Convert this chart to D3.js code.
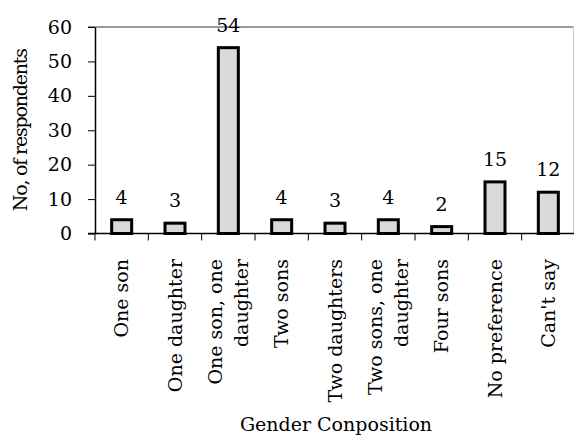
<!DOCTYPE html>
<html>
<head>
<meta charset="utf-8">
<script src="https://cdn.jsdelivr.net/npm/d3@7"></script>
<style>
  html, body { margin: 0; padding: 0; background: #fff; }
  svg text { font-family: "DejaVu Serif", serif; fill: #000; }
</style>
</head>
<body>
<svg id="chart" width="574" height="437"></svg>
<script>
// Preferred gender composition of children
const categories = [
  ["One son"],
  ["One daughter"],
  ["One son, one", "daughter"],
  ["Two sons"],
  ["Two daughters"],
  ["Two sons, one", "daughter"],
  ["Four sons"],
  ["No preference"],
  ["Can't say"]
];
const respondents = [4, 3, 54, 4, 3, 4, 2, 15, 12];
const yTicks = [0, 10, 20, 30, 40, 50, 60];
const yTitle = "No, of respondents";
const xTitle = "Gender Conposition";

const svg = d3.select("#chart");
const plotLeft = 95, plotRight = 575, plotTop = 27, plotBottom = 233.5;
const fontSize = 19;
const fontFamily = "DejaVu Serif, serif";

const x = d3.scaleBand()
  .domain(d3.range(categories.length))
  .range([plotLeft, plotRight])
  .paddingInner(0)
  .paddingOuter(0);

const y = d3.scaleLinear().domain([0, 60]).range([plotBottom, plotTop]);

// plot frame: top and right borders
svg.append("line")
  .attr("x1", 88).attr("x2", 573.5)
  .attr("y1", y(60)).attr("y2", y(60))
  .attr("stroke", "#999").attr("stroke-width", 2);
svg.append("line")
  .attr("x1", 573.5).attr("x2", 573.5)
  .attr("y1", y(60)).attr("y2", plotBottom)
  .attr("stroke", "#ccc").attr("stroke-width", 1);

// bars
const barW = 20;
svg.append("g").selectAll("rect")
  .data(respondents)
  .join("rect")
  .attr("x", (d, i) => x(i) + x.bandwidth() / 2 - barW / 2)
  .attr("y", d => y(d))
  .attr("width", barW)
  .attr("height", d => y(0) - y(d))
  .attr("fill", "#d9d9d9")
  .attr("stroke", "#000")
  .attr("stroke-width", 3);

// value labels
svg.append("g").selectAll("text")
  .data(respondents)
  .join("text")
  .attr("x", (d, i) => x(i) + x.bandwidth() / 2)
  .attr("y", d => y(d) - 16)
  .attr("text-anchor", "middle")
  .attr("font-size", fontSize)
  .text(d => d);

// y axis
const yAxis = svg.append("g")
  .attr("transform", `translate(${plotLeft},0)`)
  .call(d3.axisLeft(y).tickValues(yTicks).tickSize(7).tickPadding(16).tickSizeOuter(0));
yAxis.select(".domain").attr("stroke", "#000").attr("stroke-width", 1.5);
yAxis.selectAll(".tick line").attr("stroke", "#000");
yAxis.selectAll(".tick text")
  .attr("font-size", fontSize)
  .attr("font-family", fontFamily)
  .attr("fill", "#000");

// x axis with category boundary ticks
const xAxisG = svg.append("g").attr("transform", `translate(0,${plotBottom})`);
xAxisG.append("line")
  .attr("x1", 88).attr("x2", 574)
  .attr("stroke", "#000").attr("stroke-width", 1.5);
xAxisG.selectAll("line.tick")
  .data(d3.range(categories.length))
  .join("line")
  .attr("class", "tick")
  .attr("x1", i => x(i)).attr("x2", i => x(i))
  .attr("y1", 0).attr("y2", 7)
  .attr("stroke", "#000");

// rotated category labels
const lineGap = 25.5;
const catLabels = svg.append("g").selectAll("text")
  .data(categories)
  .join("text")
  .attr("transform", (d, i) => {
    const cx = x(i) + x.bandwidth() / 2;
    const offset = -(d.length - 1) * lineGap / 2;
    return `translate(${cx + offset + 6.5},${plotBottom + 25.5}) rotate(-90)`;
  })
  .attr("text-anchor", "end")
  .attr("font-size", fontSize);
catLabels.selectAll("tspan")
  .data(d => d)
  .join("tspan")
  .attr("x", 0)
  .attr("dy", (d, j) => j === 0 ? 0 : lineGap)
  .text(d => d);

// axis titles
svg.append("text")
  .attr("transform", `translate(27,${(plotTop + plotBottom) / 2}) rotate(-90)`)
  .attr("text-anchor", "middle")
  .attr("font-size", fontSize)
  .attr("letter-spacing", -1.2)
  .text(yTitle);

svg.append("text")
  .attr("x", 336)
  .attr("y", 431)
  .attr("text-anchor", "middle")
  .attr("font-size", fontSize)
  .text(xTitle);
</script>
</body>
</html>
